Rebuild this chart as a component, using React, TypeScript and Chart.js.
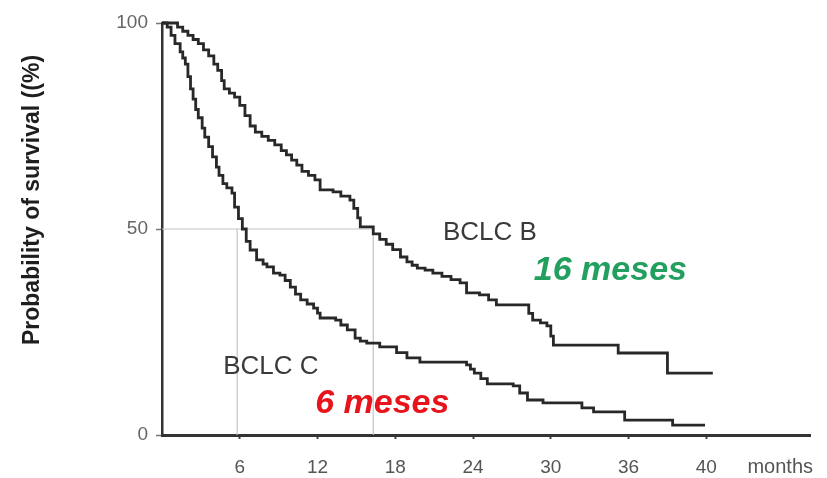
import React, { useEffect, useRef } from "react";
import { Chart, registerables } from "chart.js";

Chart.register(...registerables);

// BCLC B Kaplan–Meier curve (months, survival %)
const bMonths = [0, 1.2, 1.6, 2.0, 2.4, 2.8, 3.2, 3.6, 4.0, 4.3, 4.6, 4.8, 5.2, 5.6, 6.0, 6.4, 6.8, 7.2, 7.7, 8.2, 8.7, 9.2, 9.6, 10.0, 10.4, 10.8, 11.3, 11.8, 12.2, 13.2, 13.8, 14.5, 14.8, 15.1, 15.3, 16.3, 16.8, 17.3, 17.8, 18.4, 18.9, 19.3, 19.7, 20.3, 20.9, 21.6, 22.3, 23.0, 23.5, 24.5, 25.2, 25.8, 28.3, 28.6, 29.2, 29.7, 30.0, 30.2, 35.2, 39.0, 42.5];
const bSurvival = [100, 99, 98, 97, 96, 95, 93.5, 92, 90, 88.5, 86, 84, 83, 82, 80, 77.5, 75, 73.5, 72.5, 71.5, 70.4, 69, 68, 66.7, 65.5, 64, 63, 61.9, 59.5, 59, 58, 57, 55, 52.7, 50.5, 48.8, 47.5, 46.3, 45, 43.2, 42, 41.2, 40.5, 40, 39.3, 38.5, 37.7, 36.9, 34.5, 34, 32.8, 31.6, 29.5, 27.9, 27.2, 26.5, 24, 21.8, 19.9, 15, 15];

// BCLC C Kaplan–Meier curve (months, survival %)
const cMonths = [0, 0.4, 0.7, 1.0, 1.4, 1.6, 1.8, 2.0, 2.2, 2.4, 2.6, 2.8, 3.1, 3.3, 3.6, 3.9, 4.2, 4.4, 4.7, 5.0, 5.4, 5.6, 5.9, 6.2, 6.5, 6.8, 7.3, 7.8, 8.1, 8.6, 9.1, 9.5, 9.9, 10.3, 10.7, 11.2, 11.7, 12.0, 12.2, 13.4, 13.8, 14.3, 14.9, 15.3, 15.8, 16.8, 18.1, 18.9, 19.9, 23.5, 23.8, 24.1, 24.6, 25.1, 27.1, 27.6, 28.2, 29.4, 32.4, 33.3, 35.7, 39.4, 41.9];
const cSurvival = [100, 99, 97, 95, 93, 91.5, 90, 87, 84, 81.5, 79, 77, 74.5, 72.3, 70, 67.5, 65, 63, 61, 60, 58.7, 55.3, 52.5, 50, 47, 44.9, 42.5, 41.5, 40.8, 39.3, 38.8, 37.5, 35.9, 34.2, 32.8, 31.8, 30.8, 29.6, 28.4, 27.9, 26.7, 25.5, 23.5, 22.8, 22.3, 21.4, 20.0, 18.7, 17.7, 17.0, 16.0, 15.0, 13.7, 12.4, 11.9, 10.2, 8.5, 7.8, 6.6, 5.6, 3.6, 2.4, 2.4];

// median survival reference
const medianLevel = 50;
const medianB = 16.3;
const medianC = 5.8;

// axis ticks
const xTickValues = [6, 12, 18, 24, 30, 36, 42];
const xTickLabels = ["6", "12", "18", "24", "30", "36", "40"];
const yTickValues = [0, 50, 100];
const yTickLabels = ["0", "50", "100"];

const yTitle = "Probability of survival ((%)";
const xUnit = "months";
const labelB = "BCLC B";
const labelC = "BCLC C";
const medianTextB = "16 meses";
const medianTextC = "6 meses";

const toPoints = (xs: number[], ys: number[]) => xs.map((x, i) => ({ x, y: ys[i] }));

const textPlugin = {
  id: "annotTexts",
  afterDraw(chart: any) {
    const { ctx, scales } = chart;
    const xs = scales.x;
    const ys = scales.y;
    const put = (
      text: string,
      mx: number,
      my: number,
      font: string,
      color: string
    ) => {
      ctx.save();
      ctx.font = font;
      ctx.fillStyle = color;
      ctx.textAlign = "center";
      ctx.textBaseline = "middle";
      ctx.fillText(text, xs.getPixelForValue(mx), ys.getPixelForValue(my));
      ctx.restore();
    };
    put(labelB, 25.3, 49.0, "26px 'Liberation Sans', Arial, sans-serif", "#3a3a3a");
    put(labelC, 8.4, 16.5, "26px 'Liberation Sans', Arial, sans-serif", "#3a3a3a");
    put(medianTextB, 34.6, 40.0, "italic bold 34px 'Liberation Sans', Arial, sans-serif", "#23a060");
    put(medianTextC, 17.0, 7.5, "italic bold 34px 'Liberation Sans', Arial, sans-serif", "#e8141c");

    // units label at right of x axis
    ctx.save();
    ctx.font = "20px 'Liberation Sans', Arial, sans-serif";
    ctx.fillStyle = "#555";
    ctx.textAlign = "right";
    ctx.textBaseline = "middle";
    ctx.fillText(xUnit, chart.chartArea.right + 3, 467);
    ctx.restore();

    // y title
    ctx.save();
    ctx.translate(33, 200);
    ctx.rotate(-Math.PI / 2);
    ctx.font = "bold 23px 'Liberation Sans', Arial, sans-serif";
    ctx.fillStyle = "#1e1e1e";
    ctx.textAlign = "center";
    ctx.textBaseline = "middle";
    ctx.fillText(yTitle, 0, 0);
    ctx.restore();
  },
};

export default function App() {
  const ref = useRef<HTMLCanvasElement | null>(null);

  useEffect(() => {
    if (!ref.current) return;
    const curveStyle = {
      borderColor: "#282828",
      borderWidth: 2.8,
      pointRadius: 0,
      stepped: "before" as const,
      fill: false,
      clip: false as any,
    };
    const refStyle = {
      borderColor: "#c4c4c4",
      borderWidth: 1.2,
      pointRadius: 0,
      fill: false,
      order: 5,
    };
    const chart = new Chart(ref.current, {
      type: "line",
      data: {
        datasets: [
          { label: labelB, data: toPoints(bMonths, bSurvival), ...curveStyle, order: 1 },
          { label: labelC, data: toPoints(cMonths, cSurvival), ...curveStyle, order: 1 },
          { label: "median", data: [{ x: 0, y: medianLevel }, { x: medianB, y: medianLevel }], ...refStyle },
          { label: "medianC", data: [{ x: medianC, y: medianLevel }, { x: medianC, y: 0 }], ...refStyle },
          { label: "medianB", data: [{ x: medianB, y: medianLevel }, { x: medianB, y: 0 }], ...refStyle },
        ],
      },
      options: {
        animation: false,
        responsive: true,
        maintainAspectRatio: false,
        devicePixelRatio: 1,
        layout: { padding: { top: 23, right: 17, left: 0, bottom: 0 } },
        plugins: {
          legend: { display: false },
          tooltip: { enabled: false },
          title: { display: false },
        },
        scales: {
          x: {
            type: "linear",
            min: 0,
            max: 50,
            afterBuildTicks: (scale: any) => {
              scale.ticks = xTickValues.map((v) => ({ value: v }));
            },
            afterFit: (scale: any) => {
              scale.height = 43;
            },
            ticks: {
              callback: (v: any) => {
                const i = xTickValues.indexOf(Number(v));
                return i >= 0 ? xTickLabels[i] : "";
              },
              color: "#555",
              font: { family: "'Liberation Sans', Arial, sans-serif", size: 19 },
              padding: 17,
              maxRotation: 0,
              autoSkip: false,
            },
            grid: {
              drawOnChartArea: false,
              drawTicks: true,
              tickLength: 4,
              tickColor: "#444",
              tickWidth: 2,
            },
            border: { display: true, color: "#333", width: 3 },
          },
          y: {
            type: "linear",
            min: 0,
            max: 100,
            afterBuildTicks: (scale: any) => {
              scale.ticks = yTickValues.map((v) => ({ value: v }));
            },
            afterFit: (scale: any) => {
              scale.width = 162;
            },
            ticks: {
              callback: (v: any) => {
                const i = yTickValues.indexOf(Number(v));
                return i >= 0 ? yTickLabels[i] : "";
              },
              color: "#666",
              font: { family: "'Liberation Sans', Arial, sans-serif", size: 19 },
              padding: 8,
            },
            grid: {
              drawOnChartArea: false,
              drawTicks: true,
              tickLength: 6,
              tickColor: "#777",
              tickWidth: 1.5,
            },
            border: { display: true, color: "#333", width: 2.5 },
          },
        },
      },
      plugins: [textPlugin],
    });
    return () => chart.destroy();
  }, []);

  return (
    <div style={{ position: "fixed", left: 0, top: 0, width: 827, height: 478, background: "#fff" }}>
      <canvas ref={ref} />
    </div>
  );
}
